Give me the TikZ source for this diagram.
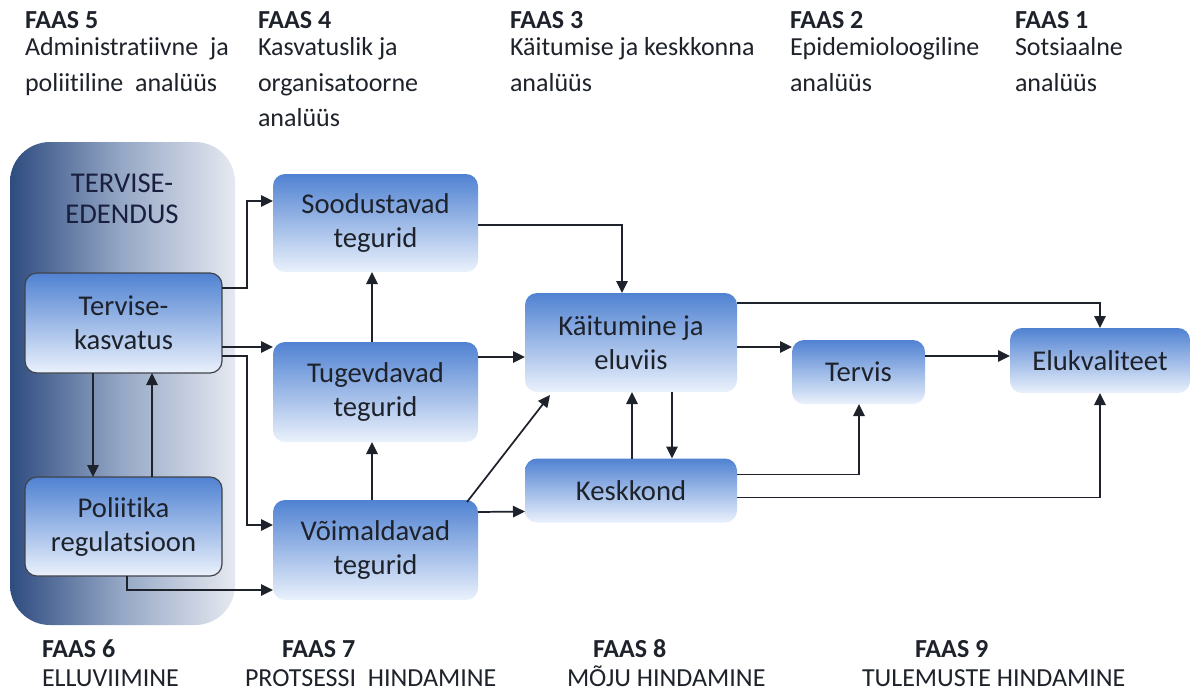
\documentclass[tikz,border=0pt]{standalone}
\usepackage{fontspec}
\setmainfont{Carlito}[Ligatures={NoCommon}]
\usetikzlibrary{arrows.meta,calc}

\definecolor{ink}{RGB}{30,34,42}
\definecolor{boxtop}{RGB}{80,130,210}
\definecolor{boxbot}{RGB}{234,241,252}
\definecolor{panL}{RGB}{46,76,128}
\definecolor{panM}{RGB}{150,168,198}
\definecolor{panR}{RGB}{230,233,240}

\tikzset{
  box/.style={rounded corners=9pt, top color=boxtop, bottom color=boxbot,
    align=center, inner sep=0pt, outer sep=0pt, text=ink,
    font=\fontsize{21.5}{25.5}\selectfont},
  framed/.style={box, draw=ink!85, line width=0.9pt},
  panel/.style={rounded corners=30pt, left color=panL, right color=panR,
    middle color=panM, inner sep=0pt, outer sep=0pt},
  lab/.style={anchor=base west, inner sep=0pt, outer sep=0pt, text=ink,
    font=\fontsize{19.5}{23}\selectfont},
  head/.style={lab, font=\fontsize{19.5}{23}\selectfont\bfseries},
  ptitle/.style={anchor=base, inner sep=0pt, text=ink!90!blue,
    font=\fontsize{21.5}{25}\selectfont},
  arr/.style={draw=ink, line width=1.3pt, -{Triangle[length=9pt,width=8.5pt]}},
}

\begin{document}
\begin{tikzpicture}[x=0.75pt, y=-0.75pt]
\useasboundingbox (0,0) rectangle (1192,694);
\fill[white] (0,0) rectangle (1192,694);

% phase headings, upper row
\node[head] (f5h) at (25,28) {FAAS 5};
\node[lab]  (f5a) at (25,55) {Administratiivne\ \ ja};
\node[lab]  (f5b) at (25,91) {poliitiline\ \ analüüs};
\node[head] (f4h) at (258,28) {FAAS 4};
\node[lab]  (f4a) at (258,55) {Kasvatuslik ja};
\node[lab]  (f4b) at (258,91) {organisatoorne};
\node[lab]  (f4c) at (258,126) {analüüs};
\node[head] (f3h) at (510,28) {FAAS 3};
\node[lab]  (f3a) at (510,55) {Käitumise ja keskkonna};
\node[lab]  (f3b) at (510,91) {analüüs};
\node[head] (f2h) at (790,28) {FAAS 2};
\node[lab]  (f2a) at (790,55) {Epidemioloogiline};
\node[lab]  (f2b) at (790,91) {analüüs};
\node[head] (f1h) at (1015,28) {FAAS 1};
\node[lab]  (f1a) at (1015,55) {Sotsiaalne};
\node[lab]  (f1b) at (1015,91) {analüüs};

% phase headings, lower row
\node[head] (f6h) at (42,657) {FAAS 6};
\node[lab]  (f6a) at (42,686) {ELLUVIIMINE};
\node[head] (f7h) at (282,657) {FAAS 7};
\node[lab]  (f7a) at (245,686) {PROTSESSI\ \ HINDAMINE};
\node[head] (f8h) at (593,657) {FAAS 8};
\node[lab]  (f8a) at (567,686) {MÕJU HINDAMINE};
\node[head] (f9h) at (915,657) {FAAS 9};
\node[lab]  (f9a) at (862,686) {TULEMUSTE HINDAMINE};

% health promotion panel
\node[panel, minimum width=168.75pt, minimum height=362.25pt] (pan) at (122.5,383.5) {};
\node[ptitle] (pt1) at (122,192) {TERVISE-};
\node[ptitle] (pt2) at (122,223) {EDENDUS};

% boxes
\node[framed, minimum width=147.75pt, minimum height=75pt] (tk) at (123.5,323) {Tervise-\\kasvatus};
\node[framed, minimum width=147.75pt, minimum height=74.25pt] (pol) at (123.5,526.5) {Poliitika\\regulatsioon};
\node[box, minimum width=153.75pt, minimum height=73.5pt] (sood) at (375.5,223) {Soodustavad\\tegurid};
\node[box, minimum width=153.75pt, minimum height=75pt] (tug) at (375.5,392) {Tugevdavad\\tegurid};
\node[box, minimum width=153.75pt, minimum height=75pt] (voi) at (375.5,550) {Võimaldavad\\tegurid};
\node[box, minimum width=159pt, minimum height=74.25pt] (kait) at (631,342.5) {Käitumine ja\\eluviis};
\node[box, minimum width=159pt, minimum height=48pt] (kesk) at (631,490.5) {Keskkond};
\node[box, minimum width=99.75pt, minimum height=48pt] (terv) at (858.5,372) {Tervis};
\node[box, minimum width=135pt, minimum height=48.75pt] (eluk) at (1100,360.5) {Elukvaliteet};

% connectors
\draw[arr] ($(tk.north east)+(0,15)$) -- ++(25,0) |- ($(sood.north west)+(0,27)$);
\draw[arr] ($(tk.north east)+(0,74)$) -- ($(tug.north west)+(0,5)$);
\draw[arr] ($(tk.north east)+(0,83)$) -- ++(25,0) |- ($(voi.north west)+(0,25)$);
\draw[arr] ($(pol.south west)+(102,0)$) |- ($(voi.south west)+(0,-10)$);
\draw[arr] ($(tk.south west)+(68,0)$) -- ($(pol.north west)+(68,0)$);
\draw[arr] ($(pol.north west)+(127,0)$) -- ($(tk.south west)+(127,0)$);
\draw[arr] ($(tug.north west)+(99,0)$) -- ($(sood.south west)+(99,0)$);
\draw[arr] ($(voi.north west)+(99,0)$) -- ($(tug.south west)+(99,0)$);
\draw[arr] ($(sood.north east)+(0,51)$) -| ($(kait.north west)+(97,0)$);
\draw[arr] ($(tug.north east)+(0,15)$) -- ($(kait.north west)+(0,64)$);
\draw[arr] ($(voi.north east)+(-11,2)$) -- ($(kait.south west)+(25,3)$);
\draw[arr] ($(voi.north east)+(0,12)$) -- ($(kesk.north west)+(0,53)$);
\draw[arr] ($(kait.south west)+(147,0)$) -- ($(kesk.north west)+(147,0)$);
\draw[arr] ($(kesk.north west)+(107,0)$) -- ($(kait.south west)+(107,0)$);
\draw[arr] ($(kait.north east)+(0,10)$) -| ($(eluk.north west)+(90,0)$);
\draw[arr] ($(kait.north east)+(0,54)$) -- ($(terv.north west)+(0,7)$);
\draw[arr] ($(kesk.north east)+(0,16)$) -| ($(terv.south west)+(67,0)$);
\draw[arr] ($(kesk.north east)+(0,39)$) -| ($(eluk.south west)+(90,0)$);
\draw[arr] ($(terv.north east)+(0,16)$) -- ($(eluk.north west)+(0,28)$);
\end{tikzpicture}
\end{document}
